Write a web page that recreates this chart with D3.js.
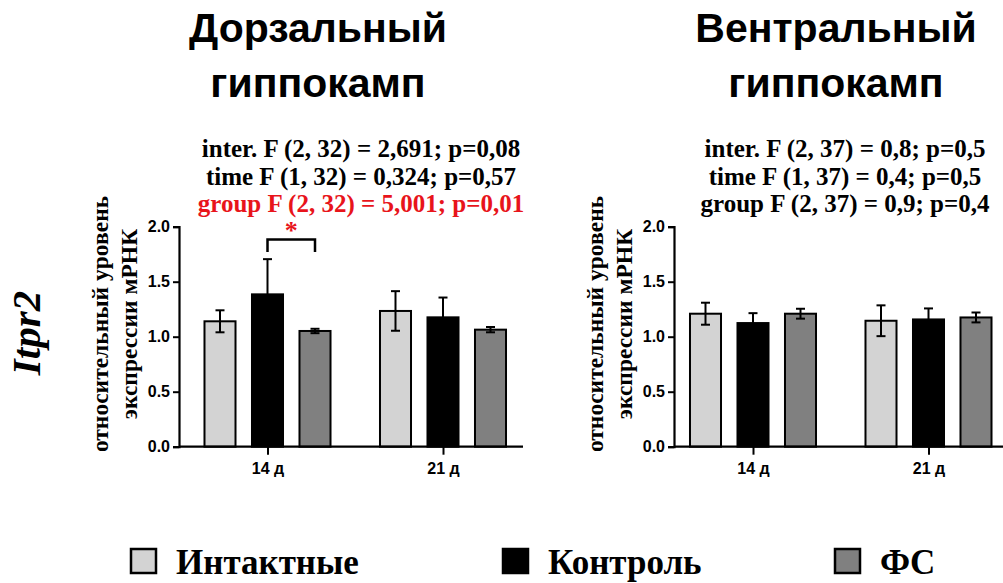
<!DOCTYPE html>
<html>
<head>
<meta charset="utf-8">
<script src="https://cdn.jsdelivr.net/npm/d3@7"></script>
<style>
  body { margin: 0; background: #fff; }
  svg { display: block; }
</style>
</head>
<body>
<svg id="chart" width="1003" height="583"></svg>
<script>
// data
const groups = ["Интактные", "Контроль", "ФС"];
const timepoints = ["14 д", "21 д"];
const groupColors = ["#d3d3d3", "#000000", "#808080"];
const yTicks = [0, 0.5, 1, 1.5, 2];

// mean and SEM, one row per time point, columns follow groups
const dorsalMean = [[1.14, 1.385, 1.052], [1.234, 1.176, 1.064]];
const dorsalErr  = [[0.10, 0.32, 0.02], [0.18, 0.18, 0.024]];
const ventralMean = [[1.209, 1.124, 1.209], [1.145, 1.157, 1.175]];
const ventralErr  = [[0.10, 0.09, 0.045], [0.14, 0.10, 0.045]];

const dorsalStats = [
  "inter. F (2, 32) = 2,691; p=0,08",
  "time F (1, 32) = 0,324; p=0,57",
  "group F (2, 32) = 5,001; p=0,01"
];
const ventralStats = [
  "inter. F (2, 37) = 0,8; p=0,5",
  "time F (1, 37) = 0,4; p=0,5",
  "group F (2, 37) = 0,9; p=0,4"
];

const svg = d3.select("#chart");
const serif = "'Liberation Serif', 'Times New Roman', serif";
const sans = "'Liberation Sans', Arial, sans-serif";

const y = d3.scaleLinear().domain([0, 2]).range([446.7, 226.7]);

function drawPanel(opt) {
  const g = svg.append("g");
  const ax = opt.axisX;

  // title
  const title = g.append("text")
    .attr("text-anchor", "middle")
    .attr("font-family", sans)
    .attr("font-weight", "bold")
    .attr("font-size", 41);
  opt.title.forEach((t, i) => {
    title.append("tspan").attr("x", opt.titleX).attr("y", 42 + i * 55).text(t);
  });

  // ANOVA lines
  opt.stats.forEach((t, i) => {
    g.append("text")
      .attr("x", opt.statsX)
      .attr("y", 157 + i * 27.5)
      .attr("text-anchor", "middle")
      .attr("font-family", serif)
      .attr("font-weight", "bold")
      .attr("font-size", 25)
      .attr("fill", opt.redLast && i === 2 ? "#e8141b" : "#000")
      .text(t);
  });

  const x0 = d3.scalePoint().domain(timepoints).range([ax + opt.firstCenter, ax + opt.firstCenter + 175.5]);
  const x1 = d3.scaleBand().domain(groups).range([-71.25, 71.25])
    .paddingInner(0.347).paddingOuter(0.1735);

  // bars
  timepoints.forEach((tp, ti) => {
    groups.forEach((gr, gi) => {
      const v = opt.mean[ti][gi], e = opt.err[ti][gi];
      const bx = x0(tp) + x1(gr);
      const cx = bx + x1.bandwidth() / 2;
      g.append("rect")
        .attr("x", bx).attr("y", y(v))
        .attr("width", x1.bandwidth()).attr("height", y(0) - y(v))
        .attr("fill", groupColors[gi])
        .attr("stroke", "#000").attr("stroke-width", 2);
      g.append("line")
        .attr("x1", cx).attr("x2", cx)
        .attr("y1", y(v - e)).attr("y2", y(v + e))
        .attr("stroke", "#000").attr("stroke-width", 2);
      [v + e, v - e].forEach(w => {
        g.append("line")
          .attr("x1", cx - 4.5).attr("x2", cx + 4.5)
          .attr("y1", y(w)).attr("y2", y(w))
          .attr("stroke", "#000").attr("stroke-width", 2);
      });
    });
  });

  // y axis
  const yAxis = g.append("g")
    .attr("transform", `translate(${ax},0)`)
    .call(d3.axisLeft(y).tickValues(yTicks).tickFormat(d3.format(".1f")).tickSize(6).tickPadding(3));
  yAxis.select(".domain").attr("stroke-width", 2.2);
  yAxis.selectAll(".tick line").attr("stroke-width", 2);
  yAxis.selectAll("text")
    .attr("font-family", sans).attr("font-weight", "bold").attr("font-size", 16);

  // x axis
  const xAxis = g.append("g")
    .attr("transform", `translate(0,${y(0)})`)
    .call(d3.axisBottom(x0).tickSize(8).tickPadding(8).tickSizeOuter(0));
  xAxis.select(".domain").attr("d", `M${ax},0H${opt.axisEnd}`).attr("stroke-width", 2.2);
  xAxis.selectAll(".tick line").attr("stroke-width", 2);
  xAxis.selectAll("text")
    .attr("font-family", sans).attr("font-weight", "bold").attr("font-size", 16);

  // y label, two lines
  const lab = g.append("text")
    .attr("transform", `translate(${ax - 71},324) rotate(-90)`)
    .attr("text-anchor", "middle")
    .attr("font-family", serif)
    .attr("font-weight", "bold")
    .attr("font-size", 23.5);
  lab.append("tspan").attr("x", 0).attr("y", 0).text("относительный уровень");
  lab.append("tspan").attr("x", 0).attr("y", 29).text("экспрессии мРНК");

  // significance bracket
  if (opt.bracket) {
    const tp = timepoints[0];
    const xa = x0(tp) + x1(groups[1]) + x1.bandwidth() / 2;
    const xb = x0(tp) + x1(groups[2]) + x1.bandwidth() / 2;
    g.append("path")
      .attr("d", `M${xa},252V239.5H${xb}V252`)
      .attr("fill", "none").attr("stroke", "#000").attr("stroke-width", 2.5);
    g.append("text")
      .attr("x", (xa + xb) / 2).attr("y", 239)
      .attr("text-anchor", "middle")
      .attr("font-family", serif).attr("font-weight", "bold").attr("font-size", 26)
      .attr("fill", "#e8141b")
      .text("*");
  }
}

drawPanel({
  axisX: 179, axisEnd: 523, firstCenter: 88.5,
  title: ["Дорзальный", "гиппокамп"], titleX: 318,
  stats: dorsalStats, statsX: 361, redLast: true,
  mean: dorsalMean, err: dorsalErr, bracket: true
});

drawPanel({
  axisX: 674, axisEnd: 1003, firstCenter: 79,
  title: ["Вентральный", "гиппокамп"], titleX: 836,
  stats: ventralStats, statsX: 845, redLast: false,
  mean: ventralMean, err: ventralErr, bracket: false
});

// gene name
svg.append("text")
  .attr("transform", "translate(40,333) rotate(-90)")
  .attr("text-anchor", "middle")
  .attr("font-family", serif)
  .attr("font-weight", "bold")
  .attr("font-style", "italic")
  .attr("font-size", 41)
  .text("Itpr2");

// legend
const legendX = [131, 503, 835];
const legend = svg.append("g");
groups.forEach((gr, i) => {
  legend.append("rect")
    .attr("x", legendX[i]).attr("y", 549)
    .attr("width", 25).attr("height", 24)
    .attr("fill", groupColors[i])
    .attr("stroke", "#000").attr("stroke-width", 2.5);
  legend.append("text")
    .attr("x", legendX[i] + 45).attr("y", 574)
    .attr("font-family", serif)
    .attr("font-weight", "bold")
    .attr("font-size", 35)
    .text(gr);
});
</script>
</body>
</html>
